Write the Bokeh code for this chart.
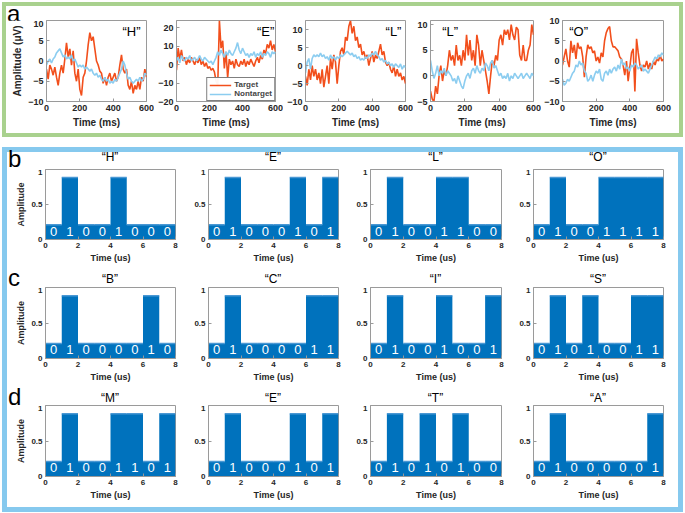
from bokeh.plotting import figure
from bokeh.layouts import row, column
from bokeh.models import Spacer, Label, Legend, LegendItem, FixedTicker, Range1d, ColumnDataSource, Div
from bokeh.embed import file_html
from bokeh.resources import INLINE
from bokeh.core.properties import value

# ---------------- data: panel a (ERP traces) ----------------
TIME_MS = list(range(0, 601, 10))
EEG_LETTERS = ["H", "E", "L", "L", "O"]

H_TARGET = [-2, -4.5, -1, -2, -3.5, -1.5, -4, -6, -3, -1,
            -3, 0.5, 4.5, 1, 3, -1, 2.5, -3, -5, -2,
            -7, -8.5, -4, -3, 0, 4, 7, 5, 6, 3,
            0, -1, -2.5, -3, -5.5, -4, -6, -4, -3, -5,
            -4, -3, -5, -4, -1, 1.5, -2, -3, -2, -6,
            -7, -5, -8, -6, -7, -5, -7, -4, -5, -2,
            -4]
H_NONTARGET = [-1, 0, 0.5, -0.5, 0.5, 1, 2, 2.5, 3, 2,
               1, 1.5, 0.5, 1, 0.5, 1.5, 0, 0.5, -0.5, -1.5,
               -1, -1.5, -1, -2, -1.5, -2, -2.5, -2, -3, -3.5,
               -3, -4, -3.5, -4.5, -5, -4, -5, -4.5, -5.5, -5,
               -5.5, -4.5, -5, -4, -3, -2, 0, -1, -3, -4.5,
               -4, -5, -5.5, -5, -4.5, -5, -4, -5, -4.5, -3,
               -3.5]
E_TARGET = [-3, 9, 3, 8, 2, 4, 0, 3, 1, 4,
            2, 0, 3, 1, 4, 0, 2, -1, 1, -2,
            -1, -3, -2, -4, -9, -11, 24, 9, 13, -2,
            7, -7, 3, 0, 2, -2, 3, 0, -1, 2,
            0, 3, -1, 2, 0, 3, 1, -1, 2, 4,
            1, 5, 3, 8, 6, 11, 9, 13, 8, 11,
            7]
E_NONTARGET = [2, 4, 1, 5, 3, 2, 4, 3, 5, 2,
               3, 4, 2, 3, 5, 3, 2, 4, 3, 2,
               1, 2, 0, 2, 4, 7, 5, 8, 6, 4,
               7, 5, 8, 6, 5, 7, 9, 12, 8, 6,
               9, 7, 5, 6, 4, 6, 5, 7, 4, 6,
               5, 7, 4, 6, 5, 7, 6, 4, 7, 6,
               7]
L_TARGET = [-3, -5.5, -1, -4, 0, -3, -1, -4, -2, -5,
            -1, -6, -3, 0, -5, 2, -1, 3, 1, -5,
            0, 4, 5, 3, 8, 7, 11, 12.5, 9, 11,
            7, 8, 5, 6, 3, 4, 2, 3, 0, 2,
            4, 1, 3, 2, 4, 6, 3, 4, 1, 0,
            1, -1, -2, 0, -3, -1, -3, -2, -4, -3,
            -5]
L_NONTARGET = [-2, 1, 2, -1, 2, 3, 2.5, 3, 2.5, 3.5,
               2.5, 3, 2, 2.5, 1.5, 3, 2, 2.5, 1.5, 2.5,
               2, 3, 2.5, 3, 3.5, 4, 3.5, 3, 3.5, 2.5,
               3, 2, 2.5, 1.5, 2, 1.5, 2.5, 2, 3, 2.5,
               3.5, 3, 4, 3, 2.5, 1.5, 2, 1, 1.5, 0.5,
               1, 0, 0.5, -0.5, 0.5, 0, -0.5, 0.5, -1, 0,
               -0.5]
L2_TARGET = [-3, -4.5, -5, -2, -3.5, 0, 2, -1, 1, 0,
             2, 5, 3, 4, 2, 6, 3, 4, 2, 5,
             3, 8, 4, 7, 3, 5, 2, 8, 6, 2,
             5, 3, 1, -1, -3.5, 0, 3, 2, 4, 3,
             7, 8, 6, 9, 8, 9, 7, 10, 8, 7,
             9.5, 9, 4, 3, 6, 3, 3, 5, 6, 10,
             8]
L2_NONTARGET = [3, 1, -0.5, 0.5, 2, 0, 1, 0.5, 1.5, 0,
                1, 0.5, 0, -1, -0.5, -1.5, 0, -1, -2, -2.5,
                -1, 0, 0.5, -0.5, 1, 1.5, 0.5, 2, 1, 0.5,
                1.5, 1, 2.5, 2, 1, 2.5, 3, 1.5, 2, 1,
                0, 0.5, -0.5, 0, -0.5, 0.5, -1, 0, -0.5, 0.5,
                0, -0.5, 0, 0.5, -0.5, 0, 0.5, 0, -0.5, 0.5,
                0]
O_TARGET = [-1, 1, 3, 0, -1.5, 5, 2, 4, 0.5, 4.5,
            3, 3.5, 1, -4, 1, 4, 3, 3.5, 2, 2.5,
            0, 1, -0.5, 2, 1, 5, 7, 8, 8.5, 5,
            3.5, 3.5, 3, 2.5, 1, 0.5, -1, -3.5, 0, -5,
            -1.5, 2, 3, -7.5, 5.5, 2, -1, -2.5, -1, -1.5,
            0, -2, -0.5, -2, 0, -1, 0.5, 0, 1.5, 0,
            0.5]
O_NONTARGET = [-4.5, -6, -5.5, -4.5, -5, -4, -3, -2.5, -1, -1.5,
               0, -1, -0.5, -2.5, -3, -5, -4.5, -3.5, -5, -3.5,
               -2.5, -3, -2, -4.5, -5, -3, -2.5, -3.5, -2, -3,
               -2, -1.5, -2.5, -1, -2, 0.5, -1, -0.5, -2, -1.5,
               -2.5, -1, -1.5, -0.5, -1, -2, -1.5, -1, -2.5, -2,
               -2.5, -3, -2, -1, 0, 1, 0.5, 1.5, 1, 2,
               1.5]
EEG_TARGET = [H_TARGET, E_TARGET, L_TARGET, L2_TARGET, O_TARGET]
EEG_NONTARGET = [H_NONTARGET, E_NONTARGET, L_NONTARGET, L2_NONTARGET, O_NONTARGET]
EEG_YLIMS = [(-10, 10), (-20, 24), (-10, 12.6), (-5, 10.8), (-10, 10)]
EEG_YTICKS = [[-10, -5, 0, 5, 10], [-20, -10, 0, 10, 20], [-10, -5, 0, 5, 10],
              [-5, 0, 5, 10], [-10, -5, 0, 5, 10]]
EEG_XTICKS = [0, 200, 400, 600]

# ---------------- data: panels b-d (bit patterns) ----------------
ROW_B_LETTERS = ["H", "E", "L", "O"]
ROW_B_BITS = ["01001000", "01000101", "01001100", "01001111"]
ROW_C_LETTERS = ["B", "C", "I", "S"]
ROW_C_BITS = ["01000010", "01000011", "01001001", "01010011"]
ROW_D_LETTERS = ["M", "E", "T", "A"]
ROW_D_BITS = ["01001101", "01000101", "01010100", "01000001"]
HIGH_LEVEL = 0.885
LOW_LEVEL = 0.21
BIT_XTICKS = [0, 2, 4, 6, 8]
BIT_YTICKS = [0, 0.5, 1]

# ---------------- styles ----------------
FONT = "Liberation Sans"
AXIS_GRAY = "#9a9a9a"
TXT = "#262626"
GREEN = "#a9d18e"
BOXBLUE = "#86c9ee"
TARGET_C = "#f24f1c"
NONTARGET_C = "#8ccdf0"
BAR_C = "#0072bd"


def bar(w, h, c=None):
    if c is None:
        return Spacer(width=w, height=h)
    return Spacer(width=w, height=h, styles={"background-color": c})


def header_div(width, height, items):
    spans = []
    for left, top, w, text, size, lh in items:
        wstyle = "width:%dpx;text-align:center;" % w if w else ""
        spans.append(
            '<div style="position:absolute;left:%dpx;top:%dpx;%s'
            "font-family:'Liberation Sans',Arial,sans-serif;font-size:%dpx;"
            'line-height:%dpx;color:black;white-space:nowrap;">%s</div>'
            % (left, top, wstyle, size, lh, text))
    html = ('<div style="position:relative;width:%dpx;height:%dpx;overflow:visible;">'
            % (width, height)) + "".join(spans) + "</div>"
    return Div(text=html, width=width, height=height, margin=0,
               styles={"overflow": "visible"})


def style(p, tick_size, label_size):
    for ax in list(p.xaxis) + list(p.yaxis):
        ax.major_tick_in = 3
        ax.major_tick_out = 0
        ax.minor_tick_line_color = None
        ax.axis_line_color = AXIS_GRAY
        ax.major_tick_line_color = AXIS_GRAY
        ax.major_label_text_font = FONT
        ax.major_label_text_font_style = "bold"
        ax.major_label_text_font_size = tick_size
        ax.major_label_text_color = TXT
        ax.major_label_standoff = 3
        ax.axis_label_text_font = FONT
        ax.axis_label_text_font_style = "bold"
        ax.axis_label_text_font_size = label_size
        ax.axis_label_text_color = TXT
        ax.axis_label_standoff = 2
    p.xgrid.visible = False
    p.ygrid.visible = False
    p.outline_line_color = AXIS_GRAY
    p.background_fill_color = "white"
    p.border_fill_color = "white"


def frac_pos(rng, f):
    return rng[0] + f * (rng[1] - rng[0])


# ---------------- section a ----------------
A_ML = [40, 22, 22, 17, 21]
A_MR = [8, 8, 8, 8, 16]
A_FW = [100, 99, 100, 103, 101]
A_MT, A_FH, A_MB = 14, 81, 32
A_TITLE_FX = [0.85, 0.90, 0.88, 0.19, 0.16]

figs_a = []
for i in range(5):
    ylim = EEG_YLIMS[i]
    mt = 0 if i == 0 else A_MT
    w = A_ML[i] + A_FW[i] + A_MR[i]
    h = mt + A_FH + A_MB
    p = figure(width=w, height=h, min_border_left=A_ML[i], min_border_right=A_MR[i],
               min_border_top=mt, min_border_bottom=A_MB,
               x_range=Range1d(0, 600), y_range=Range1d(*ylim),
               toolbar_location=None, output_backend="svg")
    src = ColumnDataSource(dict(t=TIME_MS, tg=EEG_TARGET[i], nt=EEG_NONTARGET[i]))
    r_t = p.line("t", "tg", source=src, line_color=TARGET_C, line_width=1.6)
    r_n = p.line("t", "nt", source=src, line_color=NONTARGET_C, line_width=1.6)
    p.xaxis.ticker = FixedTicker(ticks=EEG_XTICKS)
    p.yaxis.ticker = FixedTicker(ticks=EEG_YTICKS[i])
    p.xaxis.axis_label = "Time (ms)"
    if i == 0:
        p.yaxis.axis_label = "Amplitude (\u03bcV)"
    style(p, "9px", "10px")
    p.xaxis.axis_label_standoff = 3
    p.add_layout(Label(x=frac_pos((0, 600), A_TITLE_FX[i]),
                       y=frac_pos(ylim, 1 - 11 / A_FH),
                       text="\u201c" + EEG_LETTERS[i] + "\u201d", text_font=FONT,
                       text_font_size="13px", text_align="center",
                       text_baseline="middle", text_color="black"))
    if i == 1:
        leg = Legend(items=[LegendItem(label="Target", renderers=[r_t]),
                            LegendItem(label="Nontarget", renderers=[r_n])],
                     location="bottom_right", margin=0, padding=2, spacing=0,
                     label_text_font=FONT, label_text_font_style="bold",
                     label_text_font_size="8px", label_height=8, glyph_height=8,
                     glyph_width=22, label_standoff=3,
                     border_line_color="black", border_line_width=1)
        p.add_layout(leg)
    figs_a.append(p)

fig1_w = A_ML[0] + A_FW[0] + A_MR[0]
first_a = column(header_div(fig1_w, A_MT, [(1, 0, None, "a", 24, 16)]), figs_a[0])
A_INNER_H = A_MT + A_FH + A_MB
A_W = 681
A_B = 4

# ---------------- sections b-d ----------------
B_ML = [38, 25, 24, 24]
B_MR = [8, 8, 8, 15]
B_FW = [130, 130, 131, 130]
ROW_GEOM = [(17, 70, 29), (19, 71, 28), (19, 71, 31)]
ROW_TITLE_TOP = [-1, 5, 6]
ROW_LETTER_TOP = [-1, 2, 3]
ROW_PANEL_LETTER = ["b", "c", "d"]
ROWS = [(ROW_B_LETTERS, ROW_B_BITS), (ROW_C_LETTERS, ROW_C_BITS), (ROW_D_LETTERS, ROW_D_BITS)]
B_B = 5

rows_b = []
for r, (letters, bitstrs) in enumerate(ROWS):
    mt, fh, mb = ROW_GEOM[r]
    figs = []
    items = [(1, ROW_LETTER_TOP[r], None, ROW_PANEL_LETTER[r], 24, 16)]
    xoff = 0
    for c in range(4):
        bits = list(bitstrs[c])
        levels = [HIGH_LEVEL if b == "1" else LOW_LEVEL for b in bits]
        edges = list(range(9))
        mid = [k + 0.5 for k in range(8)]
        w = B_ML[c] + B_FW[c] + B_MR[c]
        h = fh + mb
        p = figure(width=w, height=h, min_border_left=B_ML[c], min_border_right=B_MR[c],
                   min_border_top=0, min_border_bottom=mb,
                   x_range=Range1d(0, 8), y_range=Range1d(0, 1),
                   toolbar_location=None, output_backend="svg")
        step_src = ColumnDataSource(dict(x=edges, lev=levels + [levels[-1]]))
        p.varea_step(x="x", y1=0, y2="lev", step_mode="after", source=step_src,
                     fill_color=BAR_C)
        seg_src = ColumnDataSource(dict(left=edges[:-1], right=edges[1:], lev=levels))
        p.segment(x0="left", x1="right", y0="lev", y1="lev", source=seg_src,
                  line_color="#4a98d4", line_width=1.5)
        txt_src = ColumnDataSource(dict(mid=mid, bit=bits, ty=[0.12] * 8))
        p.text(x="mid", y="ty", text="bit", source=txt_src, text_color="white",
               text_font=value(FONT), text_font_size="13px", text_align="center",
               text_baseline="middle")
        p.xaxis.ticker = FixedTicker(ticks=BIT_XTICKS)
        p.yaxis.ticker = FixedTicker(ticks=BIT_YTICKS)
        p.xaxis.axis_label = "Time (us)"
        if c == 0:
            p.yaxis.axis_label = "Amplitude"
        style(p, "8px", "9px")
        items.append((xoff + B_ML[c], ROW_TITLE_TOP[r], B_FW[c],
                      "\u201c" + letters[c] + "\u201d", 12, 12))
        xoff += w
        figs.append(p)
    block = column(header_div(xoff, mt, items), row(*figs))
    H = mt + fh + mb
    rows_b.append(row(bar(B_B, H, BOXBLUE), block, bar(B_B, H, BOXBLUE)))

sec_a = column(bar(A_W, A_B, GREEN),
               row(bar(A_B, A_INNER_H, GREEN), first_a, *figs_a[1:], bar(A_B, A_INNER_H, GREEN)),
               bar(A_W, A_B, GREEN))
sec_b = column(bar(A_W, B_B, BOXBLUE), *rows_b, bar(A_W, B_B, BOXBLUE))
main = column(sec_a, bar(A_W, 10), sec_b)
layout = column(bar(683, 2), row(bar(2, 510), main))

open("out.html", "w").write(file_html(layout, INLINE))
